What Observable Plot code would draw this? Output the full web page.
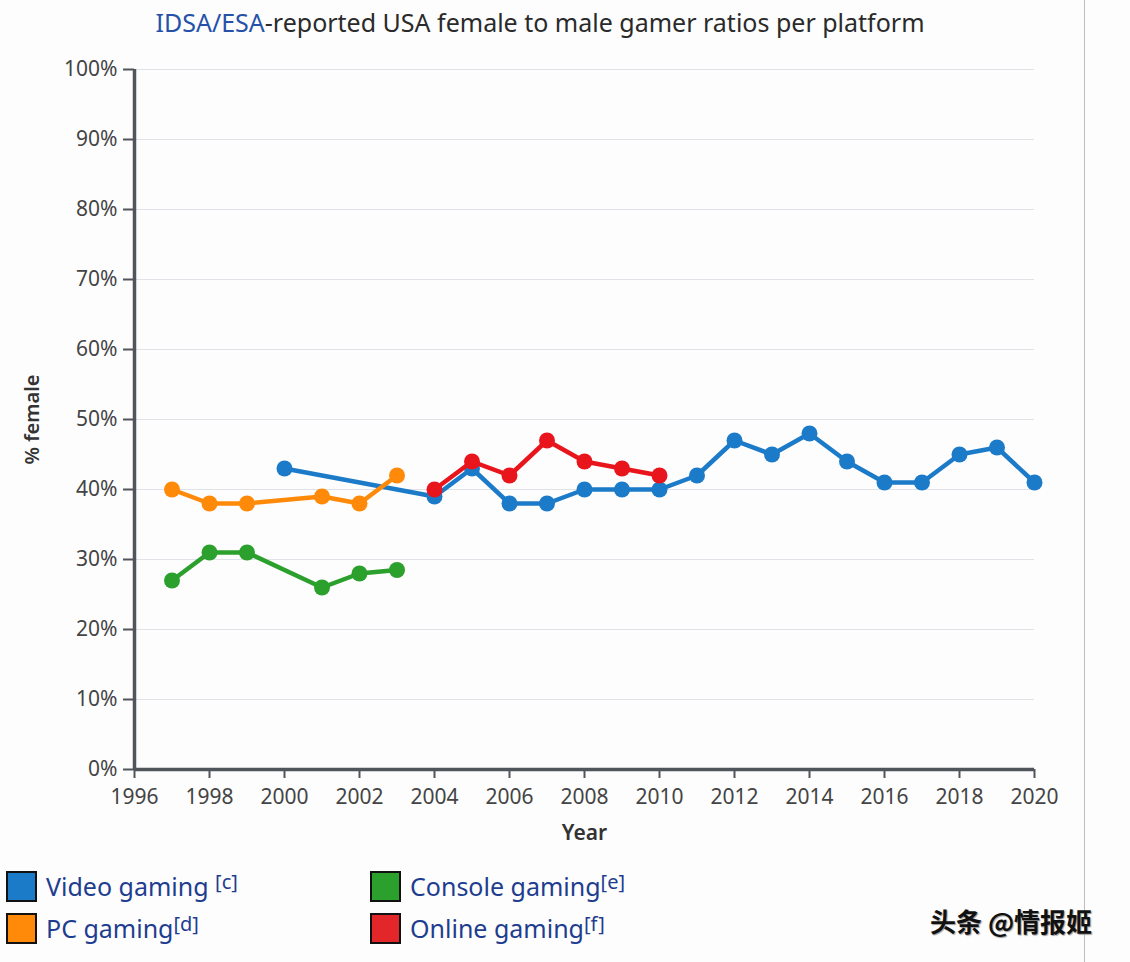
<!DOCTYPE html>
<html><head><meta charset="utf-8">
<script src="https://cdn.jsdelivr.net/npm/d3@7"></script>
<script src="https://cdn.jsdelivr.net/npm/@observablehq/plot@0.6"></script>
<style>
body{margin:0;background:#fdfdfe;font-family:"Noto Sans","Open Sans",sans-serif;width:1130px;height:962px;overflow:hidden;position:relative}
#title{position:absolute;left:0;width:1080px;top:5px;text-align:center;font-size:25px;color:#2a2a2a}
#title .lk{color:#2552a8}
#chart{position:absolute;left:0;top:45px}
.leg{position:absolute;font-size:25px;color:#1f3d8f;display:flex;align-items:center}
.sw{width:27px;height:27px;border:2px solid #111;margin-right:9px}
.leg sup{font-size:20px;position:relative;top:-5px}
#vline{position:absolute;left:1084px;top:0;width:1px;height:962px;background:#bdbdbd}
#wm{position:absolute;left:930px;top:902px;font-family:"Noto Sans CJK SC";font-size:26px;font-weight:bold;color:#111;text-shadow:1px 1px 1px #999}
</style></head>
<body>
<div id="title"><span class="lk">IDSA/ESA</span>-reported USA female to male gamer ratios per platform</div>
<div id="chart"></div>
<div id="vline"></div>
<div class="leg" style="left:6px;top:869px"><div class="sw" style="background:#1c7bc9"></div>Video gaming&nbsp;<sup>[c]</sup></div>
<div class="leg" style="left:6px;top:911px"><div class="sw" style="background:#ff8a0a"></div>PC gaming<sup>[d]</sup></div>
<div class="leg" style="left:370px;top:869px"><div class="sw" style="background:#2ca02c"></div>Console gaming<sup>[e]</sup></div>
<div class="leg" style="left:370px;top:911px"><div class="sw" style="background:#e3262a"></div>Online gaming<sup>[f]</sup></div>
<div id="wm">头条 @情报姬</div>
<script>
const videoYears = [2000,2004,2005,2006,2007,2008,2009,2010,2011,2012,2013,2014,2015,2016,2017,2018,2019,2020];
const videoValues = [43,39,43,38,38,40,40,40,42,47,45,48,44,41,41,45,46,41];
const pcYears = [1997,1998,1999,2001,2002,2003];
const pcValues = [40,38,38,39,38,42];
const consoleYears = [1997,1998,1999,2001,2002,2003];
const consoleValues = [27,31,31,26,28,28.5];
const onlineYears = [2004,2005,2006,2007,2008,2009,2010];
const onlineValues = [40,44,42,47,44,43,42];
const xTicks = [1996,1998,2000,2002,2004,2006,2008,2010,2012,2014,2016,2018,2020];
const yTicks = [0,10,20,30,40,50,60,70,80,90,100];

const series = [
  {name:"Video gaming", years:videoYears, values:videoValues, color:"#1c7bc9"},
  {name:"PC gaming", years:pcYears, values:pcValues, color:"#ff8a0a"},
  {name:"Console gaming", years:consoleYears, values:consoleValues, color:"#2ca02c"},
  {name:"Online gaming", years:onlineYears, values:onlineValues, color:"#e8161c"}
];
const rows = series.flatMap(s => s.years.map((y,i)=>({series:s.name, year:y, value:s.values[i], color:s.color})));
const axisColor = "#50555c";
const marks = [
  Plot.gridY(yTicks, {stroke:"#dfe2e6", strokeOpacity:1, strokeWidth:1}),
  Plot.axisY(yTicks, {tickFormat:d=>d+"%", tickSize:11, tickPadding:6, fontSize:21, stroke:axisColor, strokeWidth:2, fill:"#444", label:null}),
  Plot.axisX(xTicks, {tickFormat:d=>String(d), tickSize:9, tickPadding:11, fontSize:21, stroke:axisColor, strokeWidth:2, fill:"#444", label:null}),
  Plot.ruleX([1996], {stroke:axisColor, strokeWidth:3.5, y1:0, y2:100}),
  Plot.ruleY([0], {stroke:axisColor, strokeWidth:3.5}),
];
for (const s of series) {
  const d = rows.filter(r=>r.series===s.name);
  marks.push(Plot.line(d, {x:"year", y:"value", stroke:s.color, strokeWidth:4.5}));
  marks.push(Plot.dot(d, {x:"year", y:"value", fill:s.color, r:8}));
}
marks.push(Plot.text(["% female"], {frameAnchor:"left", textAnchor:"middle", dx:-102, rotate:-90, fontSize:20, fontWeight:600, fill:"#333"}));
marks.push(Plot.text(["Year"], {frameAnchor:"bottom", dy:70, fontSize:21, fontWeight:600, fill:"#333"}));

const chart = Plot.plot({
  width:1130, height:815,
  marginLeft:134, marginRight:96, marginTop:24, marginBottom:91,
  x:{domain:[1996,2020], type:"linear"},
  y:{domain:[0,100]},
  style:{fontFamily:"'Noto Sans','Open Sans',sans-serif", background:"transparent", overflow:"visible"},
  marks
});
document.getElementById("chart").appendChild(chart);
</script>
</body></html>
